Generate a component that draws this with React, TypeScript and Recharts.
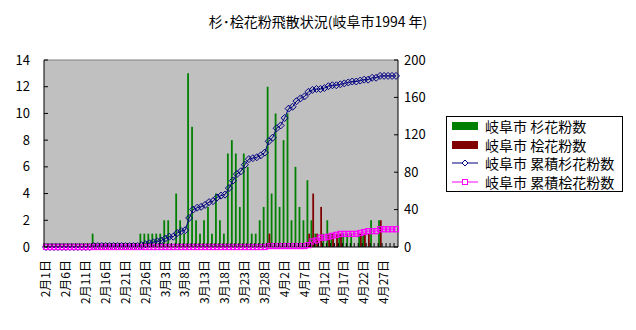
import React from "react";
import { Bar, CartesianGrid, ComposedChart, Legend, Line, ReferenceLine, XAxis, YAxis } from "recharts";

const FONT = '"Noto Sans CJK JP", "Noto Sans", sans-serif';

// 1994年 2月1日〜4月30日
const months: [number, number][] = [
  [2, 28],
  [3, 31],
  [4, 30],
];
const days = months.flatMap(([m, n]) => Array.from({ length: n }, (_, i) => `${m}月${i + 1}日`));

// 杉花粉数 (個/cm2)
const sugiFeb = [0, 0, 0, 0, 0, 0, 0, 0, 0, 0, 0, 0, 1, 0, 0, 0, 0, 0, 0, 0, 0, 0, 0, 0, 1, 1, 1, 1];
const sugiMar = [1, 1, 2, 2, 0, 4, 2, 1, 13, 9, 2, 1, 2, 3, 1, 4, 2, 1, 7, 8, 7, 3, 7, 6, 1, 1, 2, 3, 12, 4, 10];
const sugiApr = [3, 8, 10, 2, 6, 3, 2, 5, 2, 1, 0, 1, 2, 1, 0, 1, 1, 1, 1, 0, 1, 1, 0, 2, 0, 2, 0, 0, 0, 0];

// 桧花粉数
const hinokiFeb = [0, 0, 0, 0, 0, 0, 0, 0, 0, 0, 0, 0, 0, 0, 0, 0, 0, 0, 0, 0, 0, 0, 0, 0, 0, 0, 0, 0];
const hinokiMar = [0, 0, 0, 0, 0, 0, 0, 0, 0, 0, 0, 0, 0, 0, 0, 0, 0, 0, 0, 0, 0, 0, 0, 0, 0, 0, 0, 0, 1, 0, 0];
const hinokiApr = [0, 0, 0, 0, 0, 0, 0, 1, 4, 1, 3, 0, 1, 1, 1, 1, 0, 0, 0, 0, 1, 1, 1, 0, 0, 2, 0, 0, 0, 0];

const leftTicks = [0, 2, 4, 6, 8, 10, 12, 14];
const rightTicks = [0, 20, 40, 60, 80, 100, 120, 140, 160, 180, 200];

const sugi = [...sugiFeb, ...sugiMar, ...sugiApr];
const hinoki = [...hinokiFeb, ...hinokiMar, ...hinokiApr];

let sSum = 0;
let hSum = 0;
const data = days.map((day, i) => {
  sSum += sugi[i];
  hSum += hinoki[i];
  return { day, sugi: sugi[i], hinoki: hinoki[i], sugiCum: sSum, hinokiCum: hSum };
});

const PLOT_LEFT = 44;
const PLOT_RIGHT = 398;
const BAND = (PLOT_RIGHT - PLOT_LEFT) / days.length;

const XTick = (props: any) => {
  const { x, y, index, payload } = props;
  const axisY = y - 13;
  const bx = x - BAND / 2;
  return (
    <g>
      <line x1={bx} x2={bx} y1={axisY} y2={axisY - 4} stroke="#000" />
      {index % 5 === 0 && (
        <text
          x={x}
          y={y}
          transform={`rotate(-90, ${x}, ${y})`}
          textAnchor="end"
          dy="0.35em"
          fontSize={12}
          fill="#000"
          fontFamily={FONT}
        >
          {payload.value}
        </text>
      )}
    </g>
  );
};

const LeftTick = (props: any) => {
  const { x, y, payload } = props;
  const ax = x + 14;
  return (
    <g>
      <line x1={ax} x2={ax + 4} y1={y} y2={y} stroke="#000" />
      <text x={x} y={y} dy="0.35em" textAnchor="end" fontSize={13} fill="#000" fontFamily={FONT}>
        {payload.value}
      </text>
    </g>
  );
};

const RightTick = (props: any) => {
  const { x, y, payload } = props;
  const ax = x - 6;
  return (
    <g>
      <line x1={ax} x2={ax - 4} y1={y} y2={y} stroke="#000" />
      <text x={x} y={y} dy="0.35em" textAnchor="start" fontSize={13} fill="#000" fontFamily={FONT}>
        {payload.value}
      </text>
    </g>
  );
};

const Diamond = (props: any) => {
  const { cx, cy } = props;
  if (cx == null || cy == null) return null;
  const r = 3.5;
  return (
    <path
      d={`M${cx},${cy - r}L${cx + r},${cy}L${cx},${cy + r}L${cx - r},${cy}Z`}
      fill="none"
      stroke="#000080"
      strokeWidth={1}
    />
  );
};

const Square = (props: any) => {
  const { cx, cy } = props;
  if (cx == null || cy == null) return null;
  return <rect x={cx - 2.5} y={cy - 2.5} width={5} height={5} fill="none" stroke="#FF00FF" strokeWidth={1.2} />;
};

const legendItems = [
  { label: "岐阜市 杉花粉数", kind: "bar", color: "#008000" },
  { label: "岐阜市 桧花粉数", kind: "bar", color: "#800000" },
  { label: "岐阜市 累積杉花粉数", kind: "diamond", color: "#000080" },
  { label: "岐阜市 累積桧花粉数", kind: "square", color: "#FF00FF" },
];

const LegendBox = () => (
  <div
    style={{
      border: "1px solid #000",
      background: "#fff",
      width: 177,
      height: 76,
      boxSizing: "border-box",
      fontFamily: FONT,
      fontSize: 14,
      color: "#000",
    }}
  >
    {legendItems.map((it) => (
      <div key={it.label} style={{ display: "flex", alignItems: "center", height: 18.5 }}>
        <svg width={38} height={18} style={{ flex: "none" }}>
          {it.kind === "bar" && <rect x={5} y={5} width={26} height={8} fill={it.color} />}
          {it.kind !== "bar" && <line x1={5} x2={31} y1={9} y2={9} stroke={it.color} />}
          {it.kind === "diamond" && <path d="M18,6L21,9L18,12L15,9Z" fill="#fff" stroke={it.color} />}
          {it.kind === "square" && <rect x={15.5} y={6.5} width={5} height={5} fill="#fff" stroke={it.color} />}
        </svg>
        <span style={{ whiteSpace: "nowrap", lineHeight: "18px" }}>{it.label}</span>
      </div>
    ))}
  </div>
);

export default function App() {
  return (
    <div style={{ position: "absolute", left: 0, top: 0, width: 636, height: 330, background: "#fff" }}>
      <div
        style={{
          position: "absolute",
          left: 0,
          top: 11,
          width: 636,
          textAlign: "center",
          fontFamily: FONT,
          fontSize: 14,
          color: "#000",
        }}
      >
        杉･桧花粉飛散状況(岐阜市1994 年)
      </div>
      <ComposedChart
        width={636}
        height={330}
        data={data}
        margin={{ top: 60, right: 0, bottom: 0, left: 0 }}
        barGap={-1}
        barCategoryGap={0}
      >
        <CartesianGrid fill="#C0C0C0" horizontal={false} vertical={false} yAxisId="left" />
        <XAxis
          dataKey="day"
          interval={0}
          height={83}
          tickLine={false}
          tickSize={0}
          tickMargin={13}
          axisLine={{ stroke: "#000" }}
          tick={<XTick />}
        />
        <YAxis
          yAxisId="left"
          domain={[0, 14]}
          ticks={leftTicks}
          width={44}
          tickLine={false}
          tickSize={0}
          tickMargin={14}
          axisLine={{ stroke: "#000" }}
          tick={<LeftTick />}
        />
        <YAxis
          yAxisId="right"
          orientation="right"
          domain={[0, 200]}
          ticks={rightTicks}
          width={238}
          tickLine={false}
          tickSize={0}
          tickMargin={6}
          axisLine={{ stroke: "#000" }}
          tick={<RightTick />}
        />
        <ReferenceLine yAxisId="left" y={14} stroke="#808080" />
        <Bar yAxisId="left" dataKey="sugi" name="岐阜市 杉花粉数" fill="#008000" barSize={3} isAnimationActive={false} />
        <Bar yAxisId="left" dataKey="hinoki" name="岐阜市 桧花粉数" fill="#800000" barSize={3} isAnimationActive={false} />
        <Line
          yAxisId="right"
          type="linear"
          dataKey="sugiCum"
          name="岐阜市 累積杉花粉数"
          stroke="#000080"
          strokeWidth={1}
          dot={<Diamond />}
          activeDot={false}
          isAnimationActive={false}
        />
        <Line
          yAxisId="right"
          type="linear"
          dataKey="hinokiCum"
          name="岐阜市 累積桧花粉数"
          stroke="#FF00FF"
          strokeWidth={1}
          dot={<Square />}
          activeDot={false}
          isAnimationActive={false}
        />
        <Legend
          layout="horizontal"
          verticalAlign="middle"
          align="center"
          wrapperStyle={{ position: "absolute", left: 446, top: 116, width: 177, height: 76 }}
          content={<LegendBox />}
        />
      </ComposedChart>
    </div>
  );
}
